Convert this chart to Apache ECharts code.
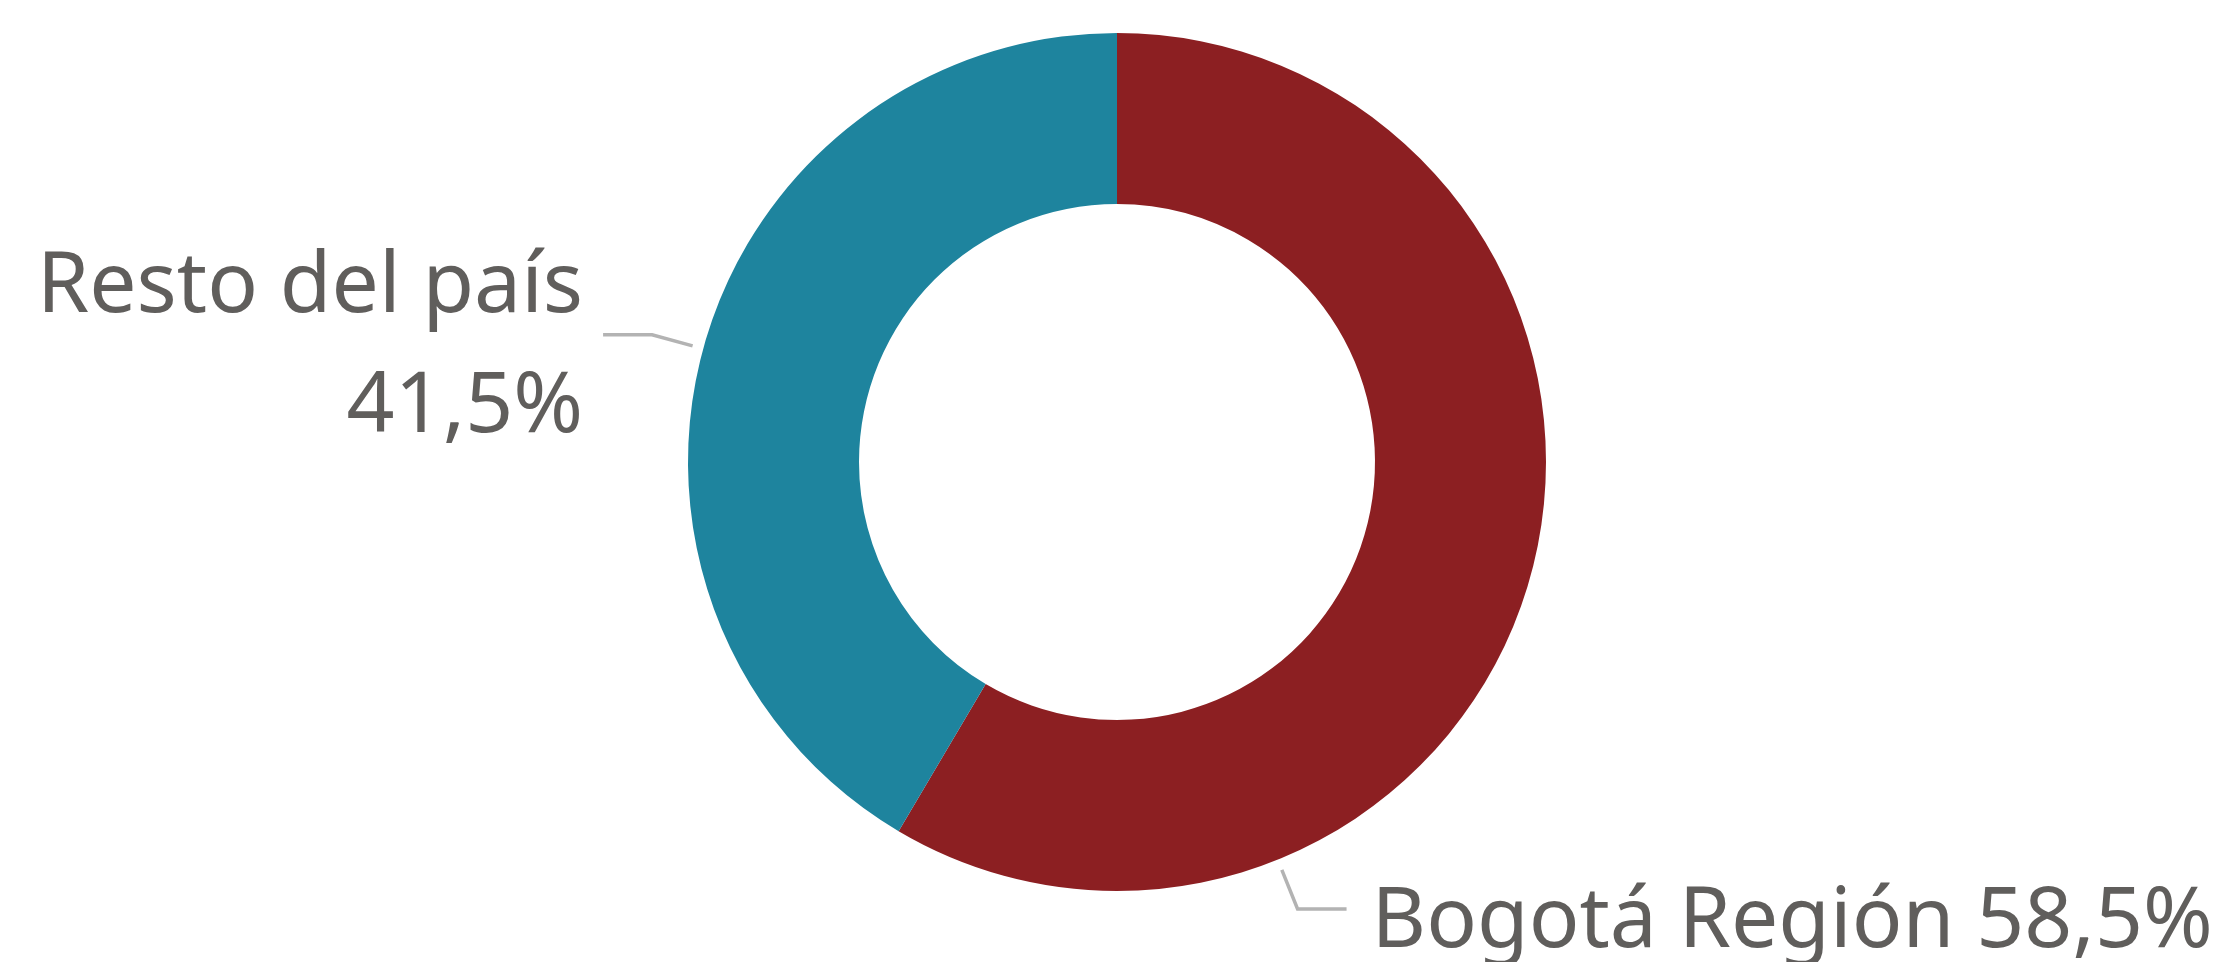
<!DOCTYPE html>
<html>
<head>
<meta charset="utf-8">
<title>Distribución</title>
<script src="https://cdn.jsdelivr.net/npm/echarts@6/dist/echarts.min.js"></script>
<style>
  html, body { margin: 0; padding: 0; background: #ffffff; }
  #chart { width: 2228px; height: 962px; }
</style>
</head>
<body>
<div id="chart"></div>
<script>
// datos
const categories = ['Bogotá Región', 'Resto del país'];
const shares = [58.5, 41.5];

// estilo / layout
const sliceColors = ['#8C1F22', '#1E849E'];
const CX = 1117, CY = 462, R_IN = 258, R_OUT = 429;
const textColor = '#605E5C';

const total = shares.reduce((a, b) => a + b, 0);
const fmt = v => v.toFixed(1).replace('.', ',') + '%';

const chart = echarts.init(document.getElementById('chart'), null, { renderer: 'canvas' });

const option = {
  backgroundColor: '#ffffff',
  animation: false,
  series: [
    {
      type: 'pie',
      center: [CX, CY],
      radius: [R_IN, R_OUT],
      startAngle: 90,
      clockwise: true,
      avoidLabelOverlap: false,
      emphasis: { disabled: true },
      itemStyle: { borderWidth: 0 },
      label: {
        show: true,
        position: 'outside',
        color: textColor,
        fontFamily: '"Noto Sans", "Open Sans", sans-serif',
        fontSize: 84,
        lineHeight: 120,
        formatter: p => p.dataIndex === 1
          ? p.name + '\n' + fmt(p.value)
          : p.name + ' ' + fmt(p.value)
      },
      labelLine: {
        show: true,
        lineStyle: { color: '#B3B3B3', width: 3.5 }
      },
      // posición de las etiquetas como en el original
      labelLayout: function (p) {
        const i = p.dataIndex;
        let ang;
        if (i === 1) {
          const mid = shares[0] / total * 360 + shares[1] / total * 180;
          ang = mid - 90;
        } else {
          ang = 68;
        }
        const rad = ang * Math.PI / 180;
        const dx = Math.cos(rad), dy = Math.sin(rad);
        const p1 = [CX + (R_OUT + 11) * dx, CY + (R_OUT + 11) * dy];
        const p2 = [CX + (R_OUT + 53) * dx, CY + (R_OUT + 53) * dy];
        const dir = dx < 0 ? -1 : 1;
        const p3 = [p2[0] + dir * 49, p2[1]];
        return {
          x: p3[0] + dir * (i === 1 ? 20 : 25),
          y: p3[1] + (i === 1 ? 13 : 14),
          align: dir < 0 ? 'right' : 'left',
          verticalAlign: 'middle',
          labelLinePoints: [p1, p2, p3]
        };
      },
      data: categories.map((name, i) => ({
        name: name,
        value: shares[i],
        itemStyle: { color: sliceColors[i] }
      }))
    }
  ]
};

chart.setOption(option);
</script>
</body>
</html>
